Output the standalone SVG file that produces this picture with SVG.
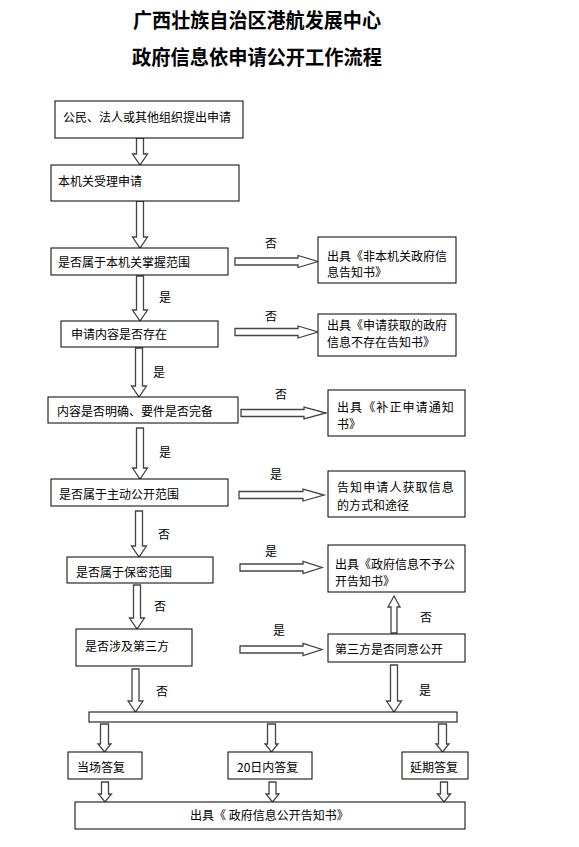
<svg xmlns="http://www.w3.org/2000/svg" width="579" height="847" viewBox="0 0 579 847">
<style>
  .bx{fill:#fff;stroke:#000;stroke-width:1}
  .t{font-family:"Noto Sans CJK SC","Liberation Sans",sans-serif;font-size:12px;fill:#000}
  .lb{font-family:"Noto Sans CJK SC","Liberation Sans",sans-serif;font-size:12px;fill:#000}
  .ti{font-family:"Noto Sans CJK SC",sans-serif;font-size:20px;font-weight:bold;fill:#000;text-anchor:middle}
  .ar{fill:#fff;stroke:#444;stroke-width:1.3;stroke-linejoin:miter}
</style>
<rect width="579" height="847" fill="#fff"/>
<g id="title">
  <text class="ti" x="257" y="28" textLength="248" lengthAdjust="spacingAndGlyphs">广西壮族自治区港航发展中心</text>
  <text class="ti" x="257" y="65" textLength="250" lengthAdjust="spacingAndGlyphs">政府信息依申请公开工作流程</text>
</g>
<g id="connectors">
  <polygon class="ar" points="136.5,138 143.5,138 143.5,154 147.5,154 140,165 132.5,154 136.5,154"/>
  <polygon class="ar" points="136.5,201 143.5,201 143.5,237 147.5,237 140,248 132.5,237 136.5,237"/>
  <polygon class="ar" points="136.5,276 143.5,276 143.5,310 147.5,310 140,321 132.5,310 136.5,310"/>
  <polygon class="ar" points="135.5,348 142.5,348 142.5,386 146.5,386 139,397 131.5,386 135.5,386"/>
  <polygon class="ar" points="136.5,428 143.5,428 143.5,468 147.5,468 140,479 132.5,468 136.5,468"/>
  <polygon class="ar" points="135.5,511 142.5,511 142.5,546 146.5,546 139,557 131.5,546 135.5,546"/>
  <polygon class="ar" points="133.5,585 140.5,585 140.5,618 144.5,618 137,629 129.5,618 133.5,618"/>
  <polygon class="ar" points="132,669 139,669 139,701 143,701 135.5,712 128,701 132,701"/>
  <polygon class="ar" points="390.5,665 397.5,665 397.5,701 401.5,701 394,712 386.5,701 390.5,701"/>
  <polygon class="ar" points="391,633 397,633 397,607 400,607 394,596 388,607 391,607"/>
  <polygon class="ar" points="100.5,724 108.5,724 108.5,744 111,744 104.5,752 98,744 100.5,744"/>
  <polygon class="ar" points="267.5,724 275.5,724 275.5,744 278,744 271.5,752 265,744 267.5,744"/>
  <polygon class="ar" points="438.5,724 446.5,724 446.5,744 449,744 442.5,752 436,744 438.5,744"/>
  <polygon class="ar" points="101.5,782 108.5,782 108.5,794 111.5,794 105,802 98.5,794 101.5,794"/>
  <polygon class="ar" points="269,782 276,782 276,794 279,794 272.5,802 266,794 269,794"/>
  <polygon class="ar" points="440.5,782 447.5,782 447.5,794 450.5,794 444,802 437.5,794 440.5,794"/>
  <polygon class="ar" points="235,258 298,258 298,255.5 318,261.5 298,267.5 298,265 235,265"/>
  <polygon class="ar" points="235,328.5 298,328.5 298,326 318,332 298,338 298,335.5 235,335.5"/>
  <polygon class="ar" points="241,409.5 304,409.5 304,407 326,413 304,419 304,416.5 241,416.5"/>
  <polygon class="ar" points="239,491.5 303,491.5 303,489 324,495 303,501 303,498.5 239,498.5"/>
  <polygon class="ar" points="240,564 303,564 303,561.5 322,567.5 303,573.5 303,571 240,571"/>
  <polygon class="ar" points="240,646 303,646 303,643.5 322,649.5 303,655.5 303,653 240,653"/>
  <text class="lb" x="265" y="248">否</text>
  <text class="lb" x="265" y="321">否</text>
  <text class="lb" x="159" y="302">是</text>
  <text class="lb" x="153" y="377">是</text>
  <text class="lb" x="275" y="399">否</text>
  <text class="lb" x="159" y="457">是</text>
  <text class="lb" x="270" y="479">是</text>
  <text class="lb" x="158" y="539">否</text>
  <text class="lb" x="265" y="556">是</text>
  <text class="lb" x="154" y="611">否</text>
  <text class="lb" x="273" y="635">是</text>
  <text class="lb" x="420" y="622">否</text>
  <text class="lb" x="419" y="695">是</text>
  <text class="lb" x="156" y="696">否</text>
</g>
<g id="n1"><rect class="bx" x="55" y="101" width="188" height="37"/><text class="t" x="63" y="122">公民、法人或其他组织提出申请</text></g>
<g id="n2"><rect class="bx" x="51" y="165" width="188" height="36"/><text class="t" x="58" y="186">本机关受理申请</text></g>
<g id="n3"><rect class="bx" x="51" y="248" width="177" height="27"/><text class="t" x="58" y="267">是否属于本机关掌握范围</text></g>
<g id="n4"><rect class="bx" x="61" y="321" width="157" height="26"/><text class="t" x="71" y="339">申请内容是否存在</text></g>
<g id="n5"><rect class="bx" x="48" y="397" width="190" height="26"/><text class="t" x="57" y="416">内容是否明确、要件是否完备</text></g>
<g id="n6"><rect class="bx" x="51" y="479" width="177" height="27"/><text class="t" x="59" y="499">是否属于主动公开范围</text></g>
<g id="n7"><rect class="bx" x="67" y="557" width="146" height="26"/><text class="t" x="76" y="577">是否属于保密范围</text></g>
<g id="n8"><rect class="bx" x="76" y="629" width="116" height="37"/><text class="t" x="85" y="651">是否涉及第三方</text></g>
<g id="r1"><rect class="bx" x="318" y="237" width="138" height="46"/><text class="t" x="327" y="261">出具《非本机关政府信</text><text class="t" x="327" y="277">息告知书》</text></g>
<g id="r2"><rect class="bx" x="318" y="314" width="138" height="42"/><text class="t" x="327" y="330">出具《申请获取的政府</text><text class="t" x="327" y="347">信息不存在告知书》</text></g>
<g id="r3"><rect class="bx" x="328" y="390" width="137" height="46"/><text class="t" x="337" y="412" letter-spacing="1.1">出具《补正申请通知</text><text class="t" x="337" y="429">书》</text></g>
<g id="r4"><rect class="bx" x="328" y="471" width="137" height="46"/><text class="t" x="337" y="492" letter-spacing="1.1">告知申请人获取信息</text><text class="t" x="337" y="510">的方式和途径</text></g>
<g id="r5"><rect class="bx" x="328" y="545" width="137" height="47"/><text class="t" x="335" y="569">出具《政府信息不予公</text><text class="t" x="335" y="586">开告知书》</text></g>
<g id="r6"><rect class="bx" x="328" y="634" width="137" height="28"/><text class="t" x="335" y="654">第三方是否同意公开</text></g>
<g id="bar"><rect class="bx" x="89" y="712" width="368" height="10"/></g>
<g id="d1"><rect class="bx" x="68" y="752" width="74" height="27"/><text class="t" x="77" y="772">当场答复</text></g>
<g id="d2"><rect class="bx" x="228" y="752" width="84" height="27"/><text class="t" x="237" y="772">20日内答复</text></g>
<g id="d3"><rect class="bx" x="402" y="752" width="66" height="27"/><text class="t" x="410" y="772">延期答复</text></g>
<g id="final"><rect class="bx" x="75" y="802" width="390" height="27"/><text class="t" x="190" y="820">出具《 政府信息公开告知书》</text></g>
</svg>
